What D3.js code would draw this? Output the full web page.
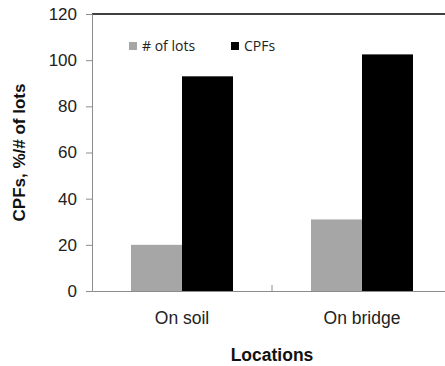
<!DOCTYPE html>
<html><head><meta charset="utf-8">
<script src="https://cdn.jsdelivr.net/npm/d3@7"></script>
<style>body{margin:0;background:#fff}svg{display:block}</style>
</head><body>
<script>
const categories = ["On soil", "On bridge"];
const seriesNames = ["# of lots", "CPFs"];
const lots = [20, 31];
const cpfs = [93, 102.5];
const yTicks = [0, 20, 40, 60, 80, 100, 120];
const colors = ["#a6a6a6", "#000000"];

const W = 445, H = 366;
const m = {left: 92, top: 14, right: -7, bottom: 75};
const svg = d3.select("body").append("svg").attr("width", W).attr("height", H);
const x = d3.scaleBand().domain(categories).range([m.left, W - m.right]).paddingInner(0).paddingOuter(0);
const y = d3.scaleLinear().domain([0, 120]).range([H - m.bottom, m.top]);
const barW = 51;
const sub = d3.scaleBand().domain(seriesNames).range([0, barW * 2]);

const data = categories.map((c, i) => ({c, vals: [lots[i], cpfs[i]]}));
const g = svg.append("g");
data.forEach(d => {
  const cx = x(d.c) + x.bandwidth() / 2 - barW;
  seriesNames.forEach((s, j) => {
    g.append("rect").attr("x", cx + sub(s)).attr("width", sub.bandwidth())
      .attr("y", y(d.vals[j])).attr("height", y(0) - y(d.vals[j])).attr("fill", colors[j]);
  });
});

// top border
svg.append("line").attr("x1", m.left).attr("x2", W).attr("y1", y(120)).attr("y2", y(120))
  .attr("stroke", "#000").attr("stroke-width", 1.3);

// y axis
const ya = svg.append("g").attr("transform", `translate(${m.left},0)`)
  .call(d3.axisLeft(y).tickValues(yTicks).tickSize(6).tickPadding(9));
ya.select(".domain").attr("stroke", "#8c8c8c");
ya.selectAll(".tick line").attr("stroke", "#8c8c8c");
ya.selectAll("text").attr("font-family", "Liberation Sans, Arial, sans-serif").attr("font-size", 17).attr("fill", "#222");

// x axis
const xa = svg.append("g").attr("transform", `translate(0,${y(0)})`)
  .call(d3.axisBottom(x).tickSize(0).tickPadding(21));
xa.select(".domain").attr("stroke", "#8c8c8c");
xa.selectAll("text").attr("font-family", "Liberation Sans, Arial, sans-serif").attr("font-size", 17.5).attr("fill", "#222");
// inner tick between categories
svg.append("line").attr("x1", x(categories[1])).attr("x2", x(categories[1]))
  .attr("y1", y(0)).attr("y2", y(0) - 6).attr("stroke", "#8c8c8c");

// titles
svg.append("text").attr("x", 272).attr("y", 361).attr("text-anchor", "middle")
  .attr("font-family", "Liberation Sans, Arial, sans-serif").attr("font-weight", "bold").attr("font-size", 17.5)
  .attr("fill", "#111").text("Locations");
svg.append("text").attr("transform", `translate(25,${(y(0) + y(120)) / 2}) rotate(-90)`).attr("text-anchor", "middle")
  .attr("font-family", "Liberation Sans, Arial, sans-serif").attr("font-weight", "bold").attr("font-size", 17)
  .attr("fill", "#111").text("CPFs, %/# of lots");

// legend
const legX = [129, 231];
seriesNames.forEach((s, j) => {
  svg.append("rect").attr("x", legX[j]).attr("y", 42).attr("width", 8).attr("height", 8).attr("fill", colors[j]);
  svg.append("text").attr("x", legX[j] + 13).attr("y", 51).attr("font-family", "Open Sans, sans-serif")
    .attr("font-size", 14).attr("fill", "#222").text(s);
});
</script>
</body></html>
